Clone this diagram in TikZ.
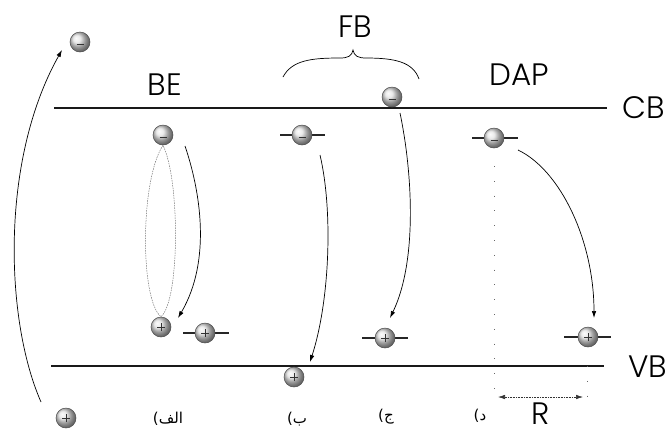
\documentclass[tikz,border=0pt]{standalone}
\usepackage{fontspec}
\setmainfont{Poppins Light}
\newfontfamily\arabicfont[Script=Arabic]{DejaVu Sans}
\newfontfamily\parenfont{DejaVu Sans}
\TeXXeTstate=1
\usetikzlibrary{arrows.meta,backgrounds,calc}
\begin{document}
\begin{tikzpicture}[x=1pt,y=-1pt,
 particle/.style={circle, minimum size=20pt, inner sep=0pt, draw=black!70, line width=0.5pt, shading=ball, ball color=gray!22},
 electron/.style={particle, path picture={\draw[line width=1pt,black!80] ([xshift=-3.5pt,yshift=-2pt]path picture bounding box.center) -- ([xshift=3.5pt,yshift=-2pt]path picture bounding box.center);}},
 hole/.style={particle, path picture={\draw[line width=0.9pt,black!80] ([xshift=-4pt]path picture bounding box.center) -- ([xshift=4pt]path picture bounding box.center) ([yshift=-4pt]path picture bounding box.center) -- ([yshift=4pt]path picture bounding box.center);}},
 level/.style={line width=1.8pt, black!85},
 band/.style={line width=2pt, black!90},
 arr/.style={-{Latex[length=7pt,width=4.5pt]}, line width=0.7pt},
 dotline/.style={dash pattern=on 0.8pt off 14pt, line width=0.8pt, black!60},
 lbl/.style={font=\fontsize{31}{31}\selectfont, inner sep=0pt},
 alab/.style={font=\fontsize{15}{17}\selectfont, inner sep=0pt}]
\useasboundingbox (0,0) rectangle (669,432);

% bands
\coordinate (cbL) at (54,108); \coordinate (cbR) at (607,108);
\coordinate (vbL) at (51,366); \coordinate (vbR) at (604,366);
\draw[band] (cbL) -- (cbR);
\draw[band] (vbL) -- (vbR);
\node[lbl] (CB) at (644,108) {CB};
\node[lbl] (VB) at (648,367) {VB};
\node[lbl] (BE) at (165,85) {BE};
\node[lbl] (FB) at (355,27) {FB};
\node[lbl] (DAP) at (519,75) {DAP};
\node[lbl] (R) at (541,414) {R};

% particles
\node[electron] (e0) at (80,42) {};
\node[hole] (h0) at (66,418) {};
\node[electron] (eA) at (163,135) {};
\node[hole] (hA) at (161,327) {};
\node[hole] (hA2) at (205,333) {};
\node[electron] (eB) at (302,135) {};
\node[hole] (hB) at (294,377) {};
\node[electron] (eC) at (392,97) {};
\node[hole] (hC) at (385,338) {};
\node[electron] (eD) at (494,138) {};
\node[hole] (hD) at (588,337) {};

\begin{pgfonlayer}{background}
\draw[level] ($(hA2)+(-22,0)$) -- ($(hA2)+(24,0)$);
\draw[level] ($(eB)+(-22,0)$) -- ($(eB)+(23,0)$);
\draw[level] ($(hC)+(-23,0)$) -- ($(hC)+(23,0)$);
\draw[level] ($(eD)+(-22,0)$) -- ($(eD)+(24,0)$);
\draw[level] ($(hD)+(-24,0)$) -- ($(hD)+(23,0)$);
\end{pgfonlayer}

% brace
\draw[line width=0.7pt] (283,77) .. controls (292,60) and (312,58) .. (340,58)
  .. controls (348,58) and (352,56) .. (353,50)
  .. controls (354,56) and (358,58) .. (366,58)
  .. controls (395,58) and (413,62) .. (419,79);

% arrows
\coordinate (a0s) at (41,402);
\coordinate (a0e) at (62,50);
\draw[arr] (a0s) .. controls (5,320) and (0,160) .. (a0e);
\draw[dashed, dash pattern=on 1.5pt off 1pt, black!55, line width=0.5pt]
  (eA.south) .. controls (140,180) and (140,300) .. (hA.north)
  .. controls (180,300) and (180,180) .. (eA.south);
\draw[arr] ($(eA)+(22,11)$) .. controls (200,190) and (212,260) .. ($(hA)+(17,-9)$);
\draw[arr] ($(eB)+(18,20)$) .. controls (333,210) and (330,300) .. ($(hB)+(16,-15)$);
\draw[arr] ($(eC)+(8,16)$) .. controls (412,170) and (418,260) .. ($(hC)+(5,-20)$);
\draw[arr] ($(eD)+(24,12)$) .. controls (560,170) and (594,240) .. ($(hD)+(6,-19)$);

% distance
\coordinate (dL) at (494,400);
\coordinate (dR) at (587,400);
\draw[dotline] ($(eD)+(0,28)$) -- (dL);
\draw[dotline] ($(hD)+(-1,29)$) -- (dR);
\draw[densely dotted, line width=0.6pt, black!80, {Latex[length=7pt,width=4.5pt]}-{Latex[length=7pt,width=4.5pt]}] ($(dL)+(4,-3)$) -- ($(dR)+(-4,-3)$);

% case labels
\node[alab] (lA) at (168,419) {\hbox{\parenfont(}\hbox{\arabicfont الف}};
\node[alab] (lB) at (297,419) {\hbox{\parenfont(}\hbox{\arabicfont ب}};
\node[alab] (lC) at (386,417) {\hbox{\parenfont(}\hbox{\arabicfont ج}};
\node[alab] (lD) at (480,416) {\hbox{\parenfont(}\hbox{\arabicfont د}};
\end{tikzpicture}
\end{document}
